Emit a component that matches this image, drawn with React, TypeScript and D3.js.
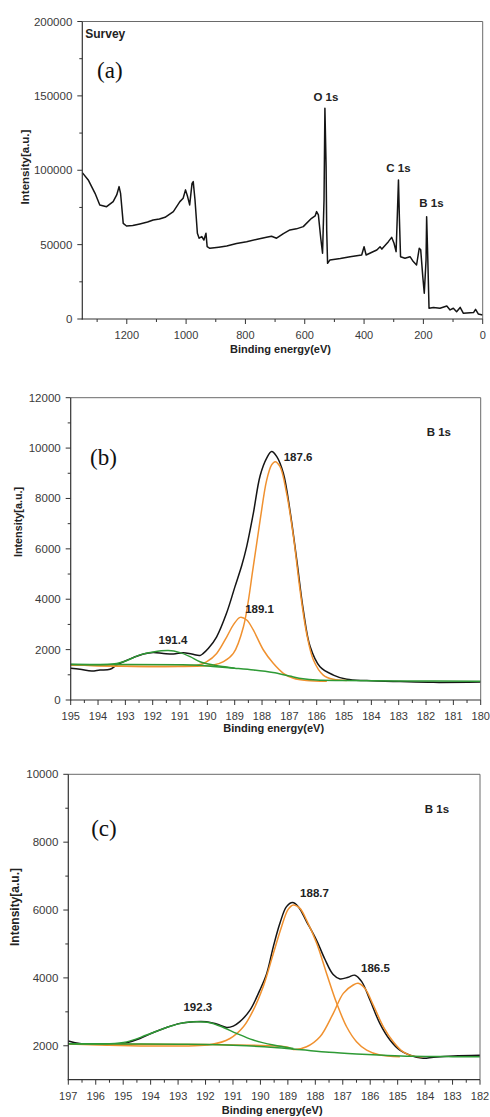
import React from 'react';
import * as d3 from 'd3';

// ---- panel (a) survey spectrum: [binding energy eV, intensity]
const surveySpectrum = [
  [1350, 98400], [1330, 93500], [1307, 84500], [1291, 76700], [1268, 75500],
  [1246, 78900], [1234, 83400], [1226, 89000], [1221, 84500], [1212, 64300],
  [1201, 62500], [1180, 62800], [1156, 63900], [1130, 65200], [1111, 66600],
  [1090, 67200], [1071, 68400], [1043, 72200], [1021, 78900], [1010, 81200],
  [1002, 86800], [995, 82300], [988, 76700], [980, 91200], [976, 92400],
  [970, 80000], [962, 57600], [956, 54300], [947, 55400], [940, 53100],
  [933, 57600], [929, 48600], [920, 47500], [890, 48300], [863, 49100],
  [830, 50800], [796, 52000], [760, 53600], [729, 54900], [712, 55600],
  [695, 54300], [672, 57400], [650, 59900], [628, 60600], [605, 62100],
  [577, 67700], [565, 69300], [560, 72200], [554, 70000], [546, 54300],
  [540, 44200], [535, 80000], [532, 141700], [528, 102500], [526, 59900],
  [523, 37400], [515, 39700], [480, 40600], [447, 41900], [408, 43000],
  [400, 48600], [393, 43000], [370, 45200], [357, 46400], [346, 48600],
  [340, 47000], [318, 52000], [307, 54900], [299, 50900], [292, 45300],
  [288, 68800], [284, 93500], [281, 68800], [277, 41900], [262, 40800],
  [245, 41900], [234, 38600], [223, 36300], [214, 47500], [209, 46500],
  [202, 28500], [197, 17300], [191, 39700], [189, 68800], [185, 39700],
  [181, 7200], [166, 7800], [144, 7200], [121, 8700], [110, 6100],
  [99, 7200], [88, 4900], [76, 7800], [65, 3800], [31, 4300],
  [24, 6500], [15, 3400], [0, 2700],
];

// ---- panel (b) B 1s
const bEnvelope = [
  [195, 1260], [194.66, 1220], [194.23, 1150], [193.93, 1190], [193.56, 1220],
  [193.32, 1390], [193.07, 1520], [192.7, 1690], [192.34, 1825], [191.98, 1890],
  [191.61, 1850], [191.24, 1825], [190.88, 1880], [190.57, 1825], [190.27, 1770],
  [190.15, 1850], [189.96, 2050], [189.66, 2510], [189.3, 3440], [188.99, 4500],
  [188.74, 5350], [188.56, 6100], [188.32, 7400], [188.07, 8900], [187.83, 9600],
  [187.65, 9860], [187.46, 9660], [187.22, 9000], [186.98, 7540], [186.73, 5560],
  [186.49, 3570], [186.24, 2120], [185.88, 1320], [185.39, 990], [184.9, 820],
  [184.17, 770], [182.95, 730], [181.73, 700], [180, 715],
];
const bBackground = [
  [195, 1410], [191, 1400], [190.3, 1380], [189.8, 1330], [189, 1260],
  [188.3, 1190], [187.6, 1090], [187, 950], [186.5, 840], [186, 790],
  [185, 770], [183, 755], [180, 745],
];
const bPeak191 = [
  [195, 1415], [193.56, 1415], [193.07, 1520], [192.46, 1790], [191.98, 1905],
  [191.43, 1960], [191, 1880], [190.63, 1720], [190.27, 1520], [189.78, 1390],
  [189.29, 1310], [189, 1260],
];
const bPeak189 = [
  [195, 1390], [190.3, 1395], [190.02, 1520], [189.66, 1850], [189.29, 2510],
  [189.05, 2980], [188.8, 3280], [188.56, 3175], [188.32, 2780], [187.95, 1985],
  [187.59, 1455], [187.22, 1060], [186.85, 860], [186.37, 770], [185.63, 740],
];
const bPeak187 = [
  [195, 1390], [189.78, 1390], [189.41, 1520], [189.05, 1850], [188.68, 2910],
  [188.32, 5290], [188.07, 7140], [187.83, 8730], [187.65, 9330], [187.52, 9460],
  [187.34, 9260], [187.1, 8200], [186.85, 6480], [186.61, 4370], [186.37, 2650],
  [186.12, 1590], [185.76, 990], [185.39, 820], [184.9, 770],
];

// ---- panel (c) B 1s
const cEnvelope = [
  [197, 2140], [196.76, 2090], [196.45, 2050], [195.85, 2050], [195.36, 2020],
  [194.87, 2090], [194.39, 2215], [193.9, 2390], [193.42, 2540], [192.93, 2660],
  [192.45, 2710], [191.96, 2710], [191.6, 2640], [191.23, 2540], [190.99, 2580],
  [190.75, 2710], [190.38, 3050], [190.02, 3640], [189.77, 4130], [189.53, 4920],
  [189.29, 5610], [189.05, 6100], [188.83, 6220], [188.62, 6100], [188.32, 5660],
  [187.95, 5100], [187.65, 4550], [187.35, 4100], [187.1, 3970], [186.8, 4020],
  [186.56, 4080], [186.31, 3890], [186.01, 3350], [185.65, 2660], [185.28, 2170],
  [184.92, 1870], [184.55, 1720], [184.07, 1630], [183.7, 1660], [182.97, 1700],
  [182, 1720],
];
const cBackground = [
  [197, 2060], [195, 2055], [193, 2045], [191.5, 2030], [190.5, 2000],
  [189.5, 1950], [188.5, 1880], [187.5, 1810], [186.5, 1760], [185.5, 1720],
  [184.5, 1690], [183, 1680], [182, 1680],
];
const cPeak192 = [
  [197, 2060], [195.5, 2058], [194.87, 2115], [194.15, 2315], [193.42, 2540],
  [192.81, 2680], [192.32, 2710], [191.84, 2680], [191.35, 2540], [190.87, 2365],
  [190.26, 2170], [189.53, 2020], [188.8, 1920],
];
const cPeak188 = [
  [197, 2050], [191.8, 2040], [191.11, 2215], [190.62, 2560], [190.26, 3050],
  [189.9, 3740], [189.53, 4720], [189.23, 5510], [188.99, 6020], [188.8, 6150],
  [188.56, 6050], [188.32, 5705], [187.95, 5020], [187.59, 4130], [187.22, 3250],
  [186.86, 2560], [186.5, 2120], [186.13, 1870], [185.65, 1725], [184.92, 1675],
];
const cPeak186 = [
  [197, 2050], [192, 2040], [190, 2010], [189, 1960], [188.8, 1890],
  [188.32, 1970], [187.83, 2265], [187.35, 2950], [186.98, 3545], [186.62, 3790],
  [186.44, 3840], [186.19, 3690], [185.89, 3200], [185.52, 2560], [185.16, 2120],
  [184.8, 1820], [184.43, 1695], [184.07, 1675],
];

const BLACK = '#151515';
const ORANGE = '#f0912f';
const GREEN = '#2e9a35';
const TICK_TEXT = '#3a3a3a';
const SANS = '"Liberation Sans", Arial, sans-serif';

type Series = { data: number[][]; color: string; curve: any };
type Note = { text: string; x: number; y: number; size: number; anchor?: string };

interface PanelProps {
  box: { left: number; right: number; top: number; bottom: number };
  xDomain: [number, number];
  yDomain: [number, number];
  xMajor: number[];
  xMinor: number[];
  yMajor: number[];
  yMinor: number[];
  xFmt: (v: number) => string;
  series: Series[];
  notes: Note[];
  letter: { text: string; x: number; y: number };
  yLabel: { x: number; y: number; size: number };
  xLabelY: number;
  yLabelShow: (v: number) => boolean;
}

function Panel(p: PanelProps) {
  const { box } = p;
  const x = d3.scaleLinear().domain(p.xDomain).range([box.left, box.right]);
  const y = d3.scaleLinear().domain(p.yDomain).range([box.bottom, box.top]);

  return (
    <g>
      {p.series.map((s, i) => {
        const line = d3.line<number[]>().x(d => x(d[0])).y(d => y(d[1])).curve(s.curve);
        return <path key={i} d={line(s.data) || ''} fill="none" stroke={s.color} strokeWidth={1.5} strokeLinejoin="round" />;
      })}

      {/* frame */}
      <line x1={box.left} x2={box.right} y1={box.top} y2={box.top} stroke="#6a6a6a" strokeWidth={1} />
      <line x1={box.right} x2={box.right} y1={box.top} y2={box.bottom} stroke="#6a6a6a" strokeWidth={1} />
      <line x1={box.left} x2={box.left} y1={box.top} y2={box.bottom + 0.5} stroke="#333" strokeWidth={1.2} />
      <line x1={box.left - 0.5} x2={box.right} y1={box.bottom} y2={box.bottom} stroke="#333" strokeWidth={1.2} />

      {/* x ticks */}
      {p.xMinor.map(v => (
        <line key={'xm' + v} x1={x(v)} x2={x(v)} y1={box.bottom} y2={box.bottom + 3} stroke="#333" />
      ))}
      {p.xMajor.map(v => (
        <g key={'xM' + v}>
          <line x1={x(v)} x2={x(v)} y1={box.bottom} y2={box.bottom + 5} stroke="#333" />
          <text x={x(v)} y={box.bottom + 20} textAnchor="middle" fontSize={11} fill={TICK_TEXT} fontFamily={SANS}>
            {p.xFmt(v)}
          </text>
        </g>
      ))}

      {/* y ticks */}
      {p.yMinor.map(v => (
        <line key={'ym' + v} x1={box.left - 3} x2={box.left} y1={y(v)} y2={y(v)} stroke="#333" />
      ))}
      {p.yMajor.map(v => (
        <g key={'yM' + v}>
          <line x1={box.left - 5} x2={box.left} y1={y(v)} y2={y(v)} stroke="#333" />
          {p.yLabelShow(v) && (
            <text x={box.left - 10} y={y(v) + 4} textAnchor="end" fontSize={11.5} fill={TICK_TEXT} fontFamily={SANS}>
              {v}
            </text>
          )}
        </g>
      ))}

      <text x={(box.left + box.right) / 2 - 2} y={p.xLabelY} textAnchor="middle" fontSize={11} fontWeight="bold" fill="#222" fontFamily={SANS}>
        Binding energy(eV)
      </text>
      <text
        transform={`translate(${p.yLabel.x},${p.yLabel.y}) rotate(-90)`}
        textAnchor="middle"
        fontSize={p.yLabel.size}
        fontWeight="bold"
        fill="#222"
        fontFamily={SANS}
      >
        Intensity[a.u.]
      </text>

      {p.notes.map((n, i) => (
        <text key={i} x={x(n.x)} y={y(n.y)} dy="0.35em" textAnchor={n.anchor || 'middle'} fontSize={n.size} fontWeight="bold" fill="#222" fontFamily={SANS}>
          {n.text}
        </text>
      ))}
      <text x={x(p.letter.x)} y={y(p.letter.y)} dy="0.35em" textAnchor="middle" fontSize={23} fill="#111" fontFamily='"Liberation Serif", "Times New Roman", serif'>
        {p.letter.text}
      </text>
    </g>
  );
}

const step = (a: number, b: number, s: number) => d3.range(a, b + s / 2, s);

export default function App() {
  const panelA: PanelProps = {
    box: { left: 82.3, right: 482.7, top: 21.5, bottom: 319 },
    xDomain: [1350, 0],
    yDomain: [0, 200000],
    xMajor: step(0, 1200, 200),
    xMinor: step(100, 1300, 200),
    yMajor: step(0, 200000, 50000),
    yMinor: step(25000, 175000, 50000),
    xFmt: v => String(v),
    series: [{ data: surveySpectrum, color: BLACK, curve: d3.curveLinear }],
    notes: [
      { text: 'O 1s', x: 528.5, y: 149200, size: 11.5 },
      { text: 'C 1s', x: 284, y: 101500, size: 11.5 },
      { text: 'B 1s', x: 172.7, y: 78000, size: 11.5 },
      { text: 'Survey', x: 1340, y: 191500, size: 12, anchor: 'start' },
    ],
    letter: { text: '(a)', x: 1257, y: 167300 },
    yLabel: { x: 29, y: 167, size: 11.5 },
    xLabelY: 353,
    yLabelShow: () => true,
  };

  const panelB: PanelProps = {
    box: { left: 70.7, right: 480.7, top: 397.7, bottom: 700 },
    xDomain: [195, 180],
    yDomain: [0, 12000],
    xMajor: step(180, 195, 1),
    xMinor: step(180.5, 194.5, 1),
    yMajor: step(0, 12000, 2000),
    yMinor: step(1000, 11000, 2000),
    xFmt: v => String(v),
    series: [
      { data: bEnvelope, color: BLACK, curve: d3.curveCatmullRom },
      { data: bPeak187, color: ORANGE, curve: d3.curveCatmullRom },
      { data: bPeak189, color: ORANGE, curve: d3.curveCatmullRom },
      { data: bBackground, color: GREEN, curve: d3.curveCatmullRom },
      { data: bPeak191, color: GREEN, curve: d3.curveCatmullRom },
    ],
    notes: [
      { text: '187.6', x: 186.68, y: 9640, size: 11.5 },
      { text: '189.1', x: 188.09, y: 3610, size: 11.5 },
      { text: '191.4', x: 191.26, y: 2380, size: 11.5 },
      { text: 'B 1s', x: 181.53, y: 10630, size: 11.5 },
    ],
    letter: { text: '(b)', x: 193.8, y: 9640 },
    yLabel: { x: 22, y: 522, size: 10.8 },
    xLabelY: 732,
    yLabelShow: () => true,
  };

  const panelC: PanelProps = {
    box: { left: 68.3, right: 480, top: 774.3, bottom: 1079.7 },
    xDomain: [197, 182],
    yDomain: [1000, 10000],
    xMajor: step(182, 197, 1),
    xMinor: step(182.5, 196.5, 1),
    yMajor: step(2000, 10000, 2000),
    yMinor: step(3000, 9000, 2000),
    xFmt: v => String(v),
    series: [
      { data: cEnvelope, color: BLACK, curve: d3.curveCatmullRom },
      { data: cPeak188, color: ORANGE, curve: d3.curveCatmullRom },
      { data: cPeak186, color: ORANGE, curve: d3.curveCatmullRom },
      { data: cBackground, color: GREEN, curve: d3.curveCatmullRom },
      { data: cPeak192, color: GREEN, curve: d3.curveCatmullRom },
    ],
    notes: [
      { text: '188.7', x: 188.03, y: 6504, size: 11.5 },
      { text: '186.5', x: 185.81, y: 4293, size: 11.5 },
      { text: '192.3', x: 192.28, y: 3143, size: 11.5 },
      { text: 'B 1s', x: 183.57, y: 8980, size: 11.5 },
    ],
    letter: { text: '(c)', x: 195.7, y: 8420 },
    yLabel: { x: 19, y: 907, size: 12 },
    xLabelY: 1114,
    yLabelShow: () => true,
  };

  return (
    <svg width={490} height={1117} style={{ position: 'absolute', left: 0, top: 0, background: '#fff' }}>
      <rect width={490} height={1117} fill="#fff" />
      <Panel {...panelA} />
      <Panel {...panelB} />
      <Panel {...panelC} />
    </svg>
  );
}
